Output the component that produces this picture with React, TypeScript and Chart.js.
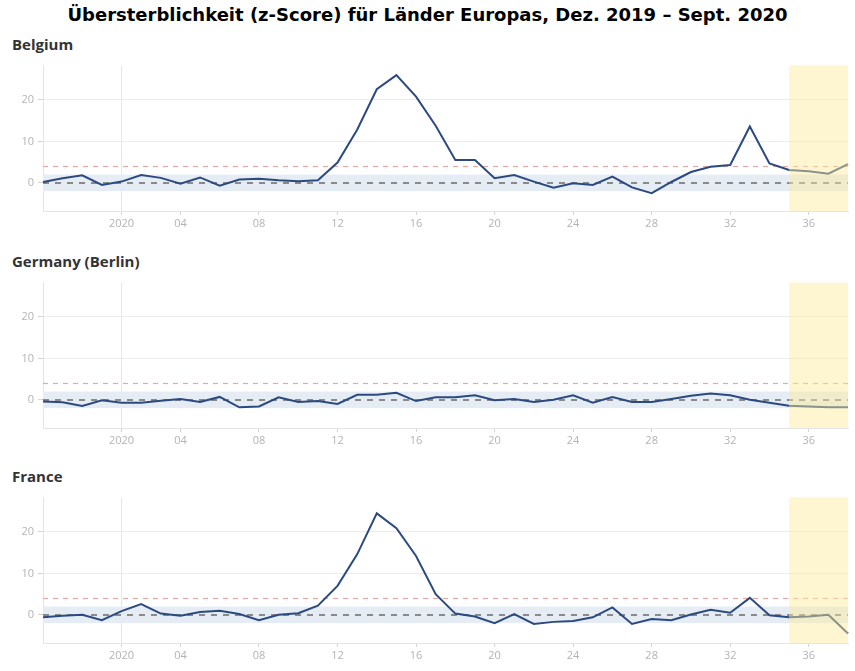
import React, { useEffect, useRef } from 'react';
import { Chart, registerables } from 'chart.js';

Chart.register(...registerables);
Chart.defaults.font.family = '"Open Sans", "Noto Sans", sans-serif';

const chartTitle = 'Übersterblichkeit (z-Score) für Länder Europas, Dez. 2019 – Sept. 2020';

const weeks = [
  '49', '50', '51', '52', '2020', '02', '03', '04', '05', '06', '07', '08', '09', '10',
  '11', '12', '13', '14', '15', '16', '17', '18', '19', '20', '21', '22', '23', '24',
  '25', '26', '27', '28', '29', '30', '31', '32', '33', '34', '35', '36', '37', '38',
];
const shownWeeks = ['2020', '04', '08', '12', '16', '20', '24', '28', '32', '36'];
const yTicks = [0, 10, 20];
const yMin = -6.8;
const yMax = 28.3;
const upperThreshold = 4;
const bandLow = -2;
const bandHigh = 2;
const forecastStartWeek = '35';

const belgium = [
  0.2, 1.1, 1.8, -0.5,
  0.3, 1.9, 1.2, -0.2, 1.3, -0.7, 0.8, 1.0, 0.6, 0.4, 0.6,
  4.9, 12.8, 22.6, 26.0, 20.8,
  13.8, 5.5, 5.5, 1.1, 1.9, 0.3, -1.2, -0.1, -0.5, 1.5, -1.1, -2.5, 0.2, 2.6, 3.9, 4.3, 13.6, 4.7, 3.1, 2.8, 2.2, 4.5,
];
const germany = [
  -0.4, -0.6, -1.5, -0.1,
  -0.7, -0.7, -0.2, 0.2, -0.5, 0.7, -1.8, -1.6, 0.6, -0.5, -0.3, -1.0, 1.2, 1.2, 1.7, -0.3,
  0.6, 0.6, 1.1, -0.1, 0.2, -0.5, 0.0, 1.1, -0.7, 0.7, -0.5, -0.5, 0.2, 1.0, 1.5, 1.1, 0.0, -0.7, -1.4, -1.6, -1.8, -1.8,
];
const france = [
  -0.6, -0.2, 0.0, -1.3,
  0.9, 2.6, 0.3, -0.2, 0.7, 1.0, 0.2, -1.3, 0.0, 0.4, 2.2, 7.0, 14.6, 24.5, 20.9, 14.2,
  5.0, 0.3, -0.4, -2.0, 0.2, -2.2, -1.7, -1.5, -0.6, 1.8, -2.2, -1.0, -1.3, 0.1, 1.2, 0.5, 4.1, -0.1, -0.6, -0.4, 0.0, -4.5,
];

const overlayPlugin = {
  id: 'overlays',
  beforeDatasetsDraw(chart: any) {
    const { ctx, chartArea: a, scales } = chart;
    const y = scales.y;
    ctx.save();
    const yb1 = y.getPixelForValue(bandHigh);
    const yb2 = y.getPixelForValue(bandLow);
    ctx.fillStyle = '#e5ecf4';
    ctx.fillRect(a.left, yb1, a.right - a.left, yb2 - yb1);
    ctx.beginPath();
    ctx.setLineDash([5, 5]);
    ctx.lineWidth = 1.2;
    ctx.strokeStyle = '#e8a8a0';
    const yt = Math.round(y.getPixelForValue(upperThreshold)) + 0.5;
    ctx.moveTo(a.left, yt);
    ctx.lineTo(a.right, yt);
    ctx.stroke();
    ctx.beginPath();
    ctx.setLineDash([6, 6]);
    ctx.lineWidth = 2;
    ctx.strokeStyle = '#8a8a8a';
    const y0 = Math.round(y.getPixelForValue(0));
    ctx.moveTo(a.left, y0);
    ctx.lineTo(a.right, y0);
    ctx.stroke();
    ctx.restore();
  },
  afterDatasetsDraw(chart: any) {
    const { ctx, chartArea: a, scales } = chart;
    const x0 = scales.x.getPixelForValue(weeks.indexOf(forecastStartWeek));
    ctx.save();
    ctx.fillStyle = 'rgba(252, 236, 150, 0.45)';
    ctx.fillRect(x0, a.top, a.right - x0, a.bottom - a.top);
    ctx.restore();
  },
};

function Panel({ label, values, top }: { label: string; values: number[]; top: number }) {
  const ref = useRef<HTMLCanvasElement>(null);
  useEffect(() => {
    if (!ref.current) return;
    const chart = new Chart(ref.current, {
      type: 'line',
      data: {
        labels: weeks,
        datasets: [
          {
            data: values,
            borderColor: '#2c4a80',
            borderWidth: 2,
            pointRadius: 0,
            tension: 0,
            fill: false,
          },
        ],
      },
      options: {
        animation: false,
        responsive: false,
        maintainAspectRatio: false,
        layout: { padding: { top: 10, right: 7, left: 0, bottom: 0 } },
        plugins: { legend: { display: false }, tooltip: { enabled: false } },
        scales: {
          x: {
            type: 'category',
            offset: false,
            grid: {
              color: (c: any) => (weeks[c.index] === '2020' ? '#e6e6e6' : 'rgba(0,0,0,0)'),
              tickColor: (c: any) => (shownWeeks.includes(weeks[c.index]) ? '#d4d4d4' : 'rgba(0,0,0,0)'),
              tickLength: 4,
            },
            border: { color: '#e4e4e4' },
            ticks: {
              autoSkip: false,
              maxRotation: 0,
              color: '#b3b3b3',
              font: { size: 11 },
              padding: 2,
              callback: (_v: any, i: number) => (shownWeeks.includes(weeks[i]) ? weeks[i] : ''),
            },
            afterFit: (s: any) => {
              s.height = 24;
            },
          },
          y: {
            min: yMin,
            max: yMax,
            afterBuildTicks: (s: any) => {
              s.ticks = yTicks.map((v) => ({ value: v }));
            },
            grid: { color: '#ececec', tickColor: '#d4d4d4', tickLength: 5 },
            border: { color: '#e4e4e4' },
            ticks: { color: '#b3b3b3', font: { size: 11 }, padding: 4 },
            afterFit: (s: any) => {
              s.width = 43;
            },
          },
        },
      },
      plugins: [overlayPlugin],
    });
    return () => chart.destroy();
  }, [values]);
  return (
    <>
      <div
        style={{
          position: 'absolute',
          left: 12,
          top: top - 21,
          fontFamily: '"Open Sans", sans-serif',
          fontWeight: 700,
          fontSize: 15,
          color: '#333',
          lineHeight: '20px',
          whiteSpace: 'nowrap',
        }}
      >
        {label}
      </div>
      <canvas
        ref={ref}
        width={855}
        height={180}
        style={{ position: 'absolute', left: 0, top: top, width: 855, height: 180 }}
      />
    </>
  );
}

export default function App() {
  return (
    <div
      style={{
        position: 'absolute',
        left: 0,
        top: 0,
        width: 855,
        height: 671,
        background: '#fff',
        overflow: 'hidden',
      }}
    >
      <div
        style={{
          position: 'absolute',
          left: 0,
          top: 3,
          width: 855,
          textAlign: 'center',
          fontFamily: '"DejaVu Sans", sans-serif',
          fontWeight: 700,
          fontSize: 18,
          lineHeight: '24px',
          color: '#000',
          whiteSpace: 'nowrap',
        }}
      >
        {chartTitle}
      </div>
      <Panel label="Belgium" values={belgium} top={55} />
      <Panel label="Germany (Berlin)" values={germany} top={272} />
      <Panel label="France" values={france} top={487} />
    </div>
  );
}
